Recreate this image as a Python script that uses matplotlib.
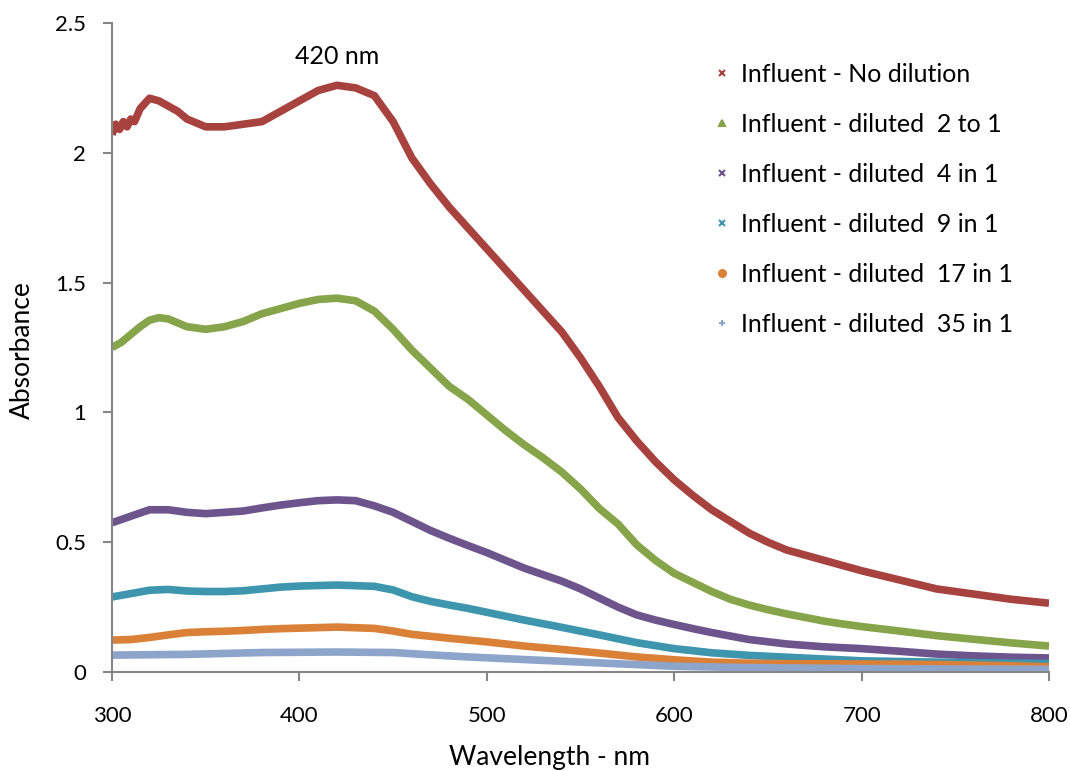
import matplotlib.pyplot as plt
from matplotlib.lines import Line2D

plt.rcParams['font.family'] = ['Lato', 'DejaVu Sans']

# wavelengths (nm) and absorbance
wl_red = [300, 302, 304, 306, 308, 310, 312, 315, 320, 325, 330, 335, 340, 350, 360, 370, 380,
          390, 400, 410, 420, 430, 440, 450, 460, 470, 480, 490, 500, 510, 520, 530, 540,
          550, 560, 570, 580, 590, 600, 610, 620, 630, 640, 650, 660, 670, 680, 690, 700,
          720, 740, 760, 780, 800]
no_dilution = [2.07, 2.11, 2.09, 2.12, 2.10, 2.13, 2.12, 2.17, 2.21, 2.20, 2.18, 2.16, 2.13,
               2.10, 2.10, 2.11, 2.12, 2.16, 2.20, 2.24, 2.26, 2.25, 2.22, 2.12, 1.98, 1.88,
               1.79, 1.71, 1.63, 1.55, 1.47, 1.39, 1.31, 1.21, 1.10, 0.98, 0.89, 0.81, 0.74,
               0.68, 0.625, 0.58, 0.535, 0.50, 0.47, 0.45, 0.43, 0.41, 0.39, 0.355, 0.32,
               0.30, 0.28, 0.265]

wl_green = [300, 305, 310, 315, 320, 325, 330, 340, 350, 360, 370, 380, 390, 400, 410, 420,
            430, 440, 450, 460, 470, 480, 490, 500, 510, 520, 530, 540, 550, 560, 570, 580,
            590, 600, 610, 620, 630, 640, 650, 660, 670, 680, 690, 700, 720, 740, 760, 780, 800]
diluted_2 = [1.25, 1.27, 1.30, 1.33, 1.355, 1.365, 1.36, 1.33, 1.32, 1.33, 1.35, 1.38, 1.40,
             1.42, 1.435, 1.44, 1.43, 1.39, 1.32, 1.24, 1.17, 1.10, 1.05, 0.99, 0.93, 0.875,
             0.825, 0.77, 0.705, 0.63, 0.57, 0.49, 0.43, 0.38, 0.345, 0.31, 0.28, 0.258, 0.24,
             0.224, 0.21, 0.196, 0.185, 0.175, 0.158, 0.14, 0.126, 0.112, 0.10]

wl_purple = [300, 310, 320, 330, 340, 350, 360, 370, 380, 390, 400, 410, 420, 430, 440, 450,
             460, 470, 480, 490, 500, 510, 520, 530, 540, 550, 560, 570, 580, 590, 600, 610,
             620, 640, 660, 680, 700, 720, 740, 760, 780, 800]
diluted_4 = [0.575, 0.60, 0.625, 0.625, 0.615, 0.61, 0.615, 0.62, 0.632, 0.643, 0.652, 0.66,
             0.663, 0.66, 0.64, 0.615, 0.58, 0.545, 0.515, 0.487, 0.46, 0.43, 0.40, 0.375,
             0.35, 0.32, 0.285, 0.25, 0.22, 0.20, 0.183, 0.167, 0.152, 0.125, 0.108, 0.097,
             0.09, 0.08, 0.069, 0.062, 0.057, 0.054]

wl_teal = [300, 310, 320, 330, 340, 350, 360, 370, 380, 390, 400, 420, 440, 450, 460, 470,
           480, 490, 500, 520, 540, 560, 580, 600, 620, 640, 660, 680, 700, 740, 780, 800]
diluted_9 = [0.289, 0.302, 0.315, 0.318, 0.312, 0.31, 0.31, 0.313, 0.32, 0.327, 0.331, 0.335,
             0.33, 0.316, 0.29, 0.272, 0.258, 0.245, 0.23, 0.20, 0.172, 0.143, 0.113, 0.09,
             0.074, 0.064, 0.057, 0.05, 0.043, 0.038, 0.034, 0.033]

wl_orange = [300, 310, 320, 330, 340, 350, 360, 370, 380, 390, 400, 420, 440, 450, 460, 480,
             500, 520, 540, 560, 580, 600, 620, 640, 660, 700, 740, 780, 800]
diluted_17 = [0.123, 0.125, 0.133, 0.143, 0.152, 0.155, 0.157, 0.16, 0.164, 0.167, 0.169,
              0.173, 0.168, 0.158, 0.145, 0.13, 0.116, 0.10, 0.087, 0.073, 0.058, 0.047,
              0.038, 0.034, 0.032, 0.031, 0.029, 0.024, 0.02]

wl_blue = [300, 340, 380, 420, 450, 470, 490, 520, 560, 600, 640, 700, 760, 800]
diluted_35 = [0.065, 0.068, 0.075, 0.077, 0.075, 0.066, 0.058, 0.048, 0.035, 0.022, 0.017,
              0.013, 0.011, 0.01]

series = [
    ("Influent - No dilution", wl_red, no_dilution, "#A8423F", "x"),
    ("Influent - diluted  2 to 1", wl_green, diluted_2, "#86A44A", "^"),
    ("Influent - diluted  4 in 1", wl_purple, diluted_4, "#6E548D", "x"),
    ("Influent - diluted  9 in 1", wl_teal, diluted_9, "#3D96AE", "x"),
    ("Influent - diluted  17 in 1", wl_orange, diluted_17, "#DA8137", "o"),
    ("Influent - diluted  35 in 1", wl_blue, diluted_35, "#8EA5CB", "+"),
]

fig = plt.figure(figsize=(10.7, 7.71), dpi=100)
ax = fig.add_axes([0.1047, 0.1284, 0.8757, 0.8418])

handles = []
for label, x, y, color, marker in series:
    ax.plot(x, y, color=color, linewidth=5.5, solid_capstyle="butt", solid_joinstyle="round")
    handles.append(Line2D([], [], linestyle="none", marker=marker, color=color,
                          markersize=5, markeredgewidth=1.5, label=label))

ax.set_xlim(300, 800)
ax.set_ylim(0, 2.5)
ax.set_xticks([300, 400, 500, 600, 700, 800])
ax.set_yticks([0, 0.5, 1, 1.5, 2, 2.5])
ax.set_yticklabels(["0", "0.5", "1", "1.5", "2", "2.5"])

for side in ["top", "right"]:
    ax.spines[side].set_visible(False)
for side in ["left", "bottom"]:
    ax.spines[side].set_color("#868686")
    ax.spines[side].set_linewidth(1.5)
ax.tick_params(axis="both", colors="#868686", length=6.5, width=1.5, labelcolor="black",
               labelsize=16)
ax.tick_params(axis="x", pad=18)
ax.tick_params(axis="y", pad=12)

ax.set_xlabel("Wavelength - nm", fontsize=19, va="center")
ax.set_ylabel("Absorbance", fontsize=19, va="center")
ax.xaxis.set_label_coords(0.467, -0.131)
ax.yaxis.set_label_coords(-0.096, 0.496)

ax.text(420, 2.37, "420 nm", fontsize=18, ha="center", va="center")

fig.legend(handles=handles, loc="upper left", bbox_to_anchor=(0.6467, 0.948), frameon=False,
           fontsize=18, labelspacing=1.08, handlelength=0.6, handletextpad=0.46)

fig.savefig("out.png", dpi=100)
